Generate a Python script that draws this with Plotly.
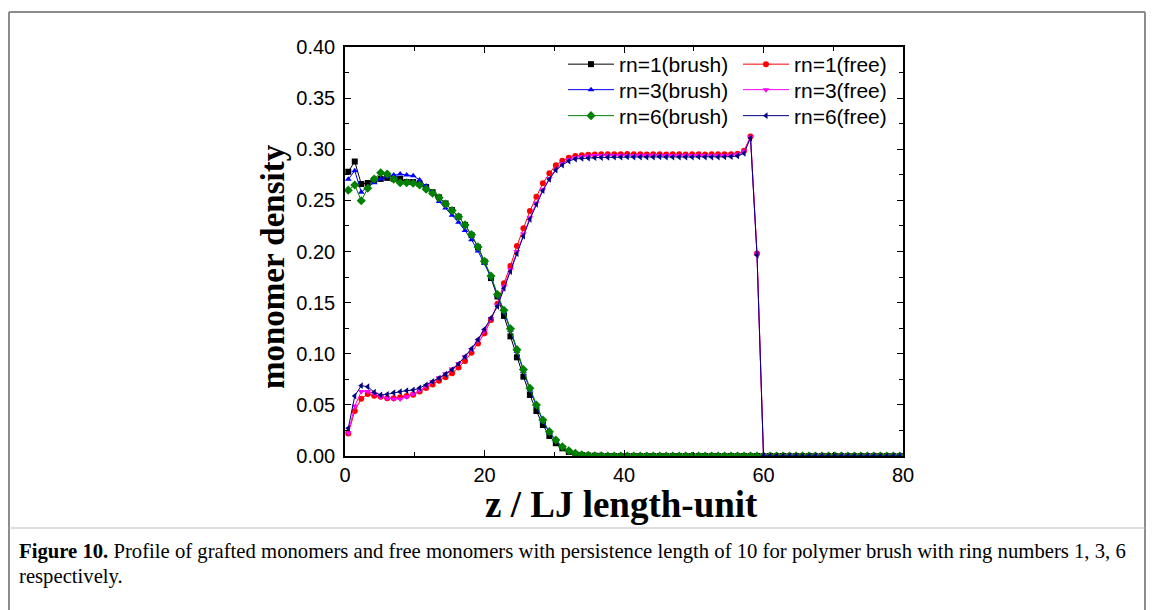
import plotly.graph_objects as go

# z positions of the density bins (LJ units)
z = [0.47, 1.40, 2.33, 3.26, 4.19, 5.12, 6.05, 6.98, 7.91, 8.84,
     9.77, 10.70, 11.63, 12.56, 13.49, 14.42, 15.35, 16.28, 17.21, 18.14,
     19.07, 20.00, 20.93, 21.86, 22.79, 23.72, 24.65, 25.58, 26.51, 27.44,
     28.37, 29.30, 30.23, 31.16, 32.09, 33.02, 33.95, 34.88, 35.81, 36.74,
     37.67, 38.60, 39.53, 40.47, 41.40, 42.33, 43.26, 44.19, 45.12, 46.05,
     46.98, 47.91, 48.84, 49.77, 50.70, 51.63, 52.56, 53.49, 54.42, 55.35,
     56.28, 57.21, 58.14, 59.07, 60.00, 60.93, 61.86, 62.79, 63.72, 64.65,
     65.58, 66.51, 67.44, 68.37, 69.30, 70.23, 71.16, 72.09, 73.02, 73.95,
     74.88, 75.81, 76.74, 77.67, 78.60, 79.53]

rn1_brush = [0.278, 0.288, 0.266, 0.267, 0.270, 0.271, 0.272, 0.271, 0.271, 0.268,
             0.268, 0.266, 0.263, 0.258, 0.253, 0.247, 0.2405, 0.234, 0.226, 0.216,
             0.204, 0.190, 0.174, 0.156, 0.137, 0.117, 0.0965, 0.0776, 0.0597, 0.044,
             0.0303, 0.0196, 0.0125, 0.0075, 0.004, 0.002, 0.001, 0.0005, 0.0003, 0.0002,
             0, 0, 0, 0, 0, 0, 0, 0, 0, 0,
             0, 0, 0, 0, 0, 0, 0, 0, 0, 0,
             0, 0, 0, 0, 0, 0, 0, 0, 0, 0,
             0, 0, 0, 0, 0, 0, 0, 0, 0, 0,
             0, 0, 0, 0, 0, 0]

rn3_brush = [0.2706, 0.279, 0.258, 0.2634, 0.2673, 0.2709, 0.2732, 0.2748, 0.2758, 0.2748,
             0.2741, 0.2700, 0.2640, 0.2575, 0.2490, 0.2425, 0.2355, 0.2285, 0.2205, 0.2115,
             0.2005, 0.1885, 0.1750, 0.1570, 0.1410, 0.1230, 0.1025, 0.0830, 0.0645, 0.0485,
             0.0340, 0.0228, 0.0148, 0.0088, 0.0050, 0.0025, 0.0012, 0.0006, 0.0003, 0.0002,
             0, 0, 0, 0, 0, 0, 0, 0, 0, 0,
             0, 0, 0, 0, 0, 0, 0, 0, 0, 0,
             0, 0, 0, 0, 0, 0, 0, 0, 0, 0,
             0, 0, 0, 0, 0, 0, 0, 0, 0, 0,
             0, 0, 0, 0, 0, 0]

rn6_brush = [0.260, 0.265, 0.2497, 0.2618, 0.2709, 0.277, 0.2758, 0.2706, 0.2673, 0.2673,
             0.2667, 0.2650, 0.2610, 0.2570, 0.2525, 0.2465, 0.2400, 0.2340, 0.2260, 0.2165,
             0.2045, 0.1905, 0.1760, 0.1580, 0.1425, 0.1245, 0.1040, 0.0845, 0.0662, 0.0499,
             0.0352, 0.0238, 0.0156, 0.0091, 0.0052, 0.0026, 0.0012, 0.0006, 0.0003, 0.0002,
             0, 0, 0, 0, 0, 0, 0, 0, 0, 0,
             0, 0, 0, 0, 0, 0, 0, 0, 0, 0,
             0, 0, 0, 0, 0, 0, 0, 0, 0, 0,
             0, 0, 0, 0, 0, 0, 0, 0, 0, 0,
             0, 0, 0, 0, 0, 0]

rn1_free = [0.022, 0.044, 0.056, 0.0606, 0.059, 0.058, 0.0565, 0.0565, 0.0575, 0.0587,
            0.0600, 0.0630, 0.0665, 0.0700, 0.0735, 0.0770, 0.0810, 0.0865, 0.0930, 0.1010,
            0.1100, 0.1200, 0.1330, 0.1490, 0.1690, 0.1858, 0.2055, 0.2227, 0.2396, 0.2536,
            0.2667, 0.2765, 0.2843, 0.2888, 0.2918, 0.2935, 0.2942, 0.2946, 0.2948, 0.2950,
            0.2950, 0.2952, 0.2951, 0.2953, 0.2950, 0.2952, 0.2948, 0.2951, 0.2950, 0.2949,
            0.2951, 0.2950, 0.2949, 0.2952, 0.2950, 0.2948, 0.2951, 0.2950, 0.2952, 0.2950,
            0.2955, 0.2985, 0.3125, 0.1980, 0, 0, 0, 0, 0, 0,
            0, 0, 0, 0, 0, 0, 0, 0, 0, 0,
            0, 0, 0, 0, 0, 0]

rn3_free = [0.0225, 0.0489, 0.0630, 0.0630, 0.0610, 0.0580, 0.0564, 0.0557, 0.0557, 0.0580,
            0.0606, 0.0640, 0.0685, 0.0725, 0.0765, 0.0805, 0.0850, 0.0905, 0.0970, 0.1040,
            0.1130, 0.1225, 0.1345, 0.1475, 0.1655, 0.1825, 0.2000, 0.2170, 0.2330, 0.2475,
            0.2605, 0.2715, 0.2805, 0.2860, 0.2900, 0.2920, 0.2930, 0.2935, 0.2938, 0.2940,
            0.2941, 0.2940, 0.2942, 0.2940, 0.2939, 0.2941, 0.2940, 0.2942, 0.2940, 0.2941,
            0.2939, 0.2940, 0.2941, 0.2940, 0.2942, 0.2940, 0.2939, 0.2941, 0.2940, 0.2942,
            0.2950, 0.2980, 0.3120, 0.1975, 0, 0, 0, 0, 0, 0,
            0, 0, 0, 0, 0, 0, 0, 0, 0, 0,
            0, 0, 0, 0, 0, 0]

rn6_free = [0.0271, 0.0587, 0.0688, 0.0678, 0.0623, 0.0597, 0.0603, 0.0619, 0.0629, 0.0639,
            0.0645, 0.0665, 0.0695, 0.0728, 0.0762, 0.0800, 0.0845, 0.0900, 0.0970, 0.1050,
            0.1140, 0.1240, 0.1350, 0.1465, 0.1640, 0.1805, 0.1980, 0.2150, 0.2315, 0.2461,
            0.2595, 0.2706, 0.2797, 0.2846, 0.2885, 0.2905, 0.2911, 0.2915, 0.2918, 0.2920,
            0.2922, 0.2925, 0.2923, 0.2926, 0.2924, 0.2925, 0.2923, 0.2925, 0.2926, 0.2924,
            0.2925, 0.2923, 0.2925, 0.2924, 0.2926, 0.2925, 0.2923, 0.2925, 0.2926, 0.2928,
            0.2935, 0.2960, 0.3110, 0.1965, 0, 0, 0, 0, 0, 0,
            0, 0, 0, 0, 0, 0, 0, 0, 0, 0,
            0, 0, 0, 0, 0, 0]

series_names = ["rn=1(brush)", "rn=1(free)", "rn=3(brush)", "rn=3(free)", "rn=6(brush)", "rn=6(free)"]
series_values = [rn1_brush, rn1_free, rn3_brush, rn3_free, rn6_brush, rn6_free]
colors = ["#000000", "#FF0000", "#0000FF", "#FF00FF", "#008000", "#000080"]
symbols = ["square", "circle", "triangle-up", "triangle-down", "diamond", "triangle-left"]
sizes = [6, 6, 6, 6, 7, 6]

x_title = "z / LJ length-unit"
y_title = "monomer density"
caption_1 = "<b>Figure 10.</b> Profile of grafted monomers and free monomers with persistence length of 10 for polymer brush with ring numbers 1, 3, 6"
caption_2 = "respectively."

# plot area geometry (pixels)
W, H = 1153, 610
L, R, T, B = 345, 903, 47, 456
pw, ph = R - L, B - T


def px(xp):
    return (xp - L) / pw


def py(yp):
    return (B - yp) / ph


fig = go.Figure()
legend_ids = ["legend", "legend2", "legend3", "legend4", "legend5", "legend6"]
for k, (name, vals) in enumerate(zip(series_names, series_values)):
    fig.add_trace(go.Scatter(
        x=z, y=vals, name=name, mode="lines+markers",
        line=dict(color=colors[k], width=1),
        marker=dict(symbol=symbols[k], size=sizes[k], color=colors[k]),
        legend=legend_ids[k],
    ))

# legend placement: two columns, three rows
col_x = [px(563), px(738)]
row_y = [py(64.5), py(90), py(116)]
leg_layout = {}
for k, lid in enumerate(legend_ids):
    leg_layout[lid] = dict(
        x=col_x[k % 2], y=row_y[k // 2], xanchor="left", yanchor="middle",
        bgcolor="rgba(0,0,0,0)", borderwidth=0, itemwidth=46,
        font=dict(family="Liberation Sans, Arial", size=21, color="black"),
    )

axis_common = dict(
    showline=True, linecolor="black", linewidth=1.5, mirror="allticks",
    ticks="inside", ticklen=6, tickwidth=1.2, tickcolor="black",
    showgrid=False, zeroline=False,
    tickfont=dict(family="Liberation Sans, Arial", size=20, color="black"),
)

fig.update_layout(
    width=W, height=H,
    margin=dict(l=L, r=W - R, t=T, b=H - B),
    paper_bgcolor="white", plot_bgcolor="white",
    showlegend=True,
    xaxis=dict(range=[0, 80], dtick=20, tick0=0,
               minor=dict(ticks="inside", dtick=10, ticklen=4, tickwidth=1.2, tickcolor="black"),
               ticklabelstandoff=0, **axis_common),
    yaxis=dict(range=[0, 0.40], dtick=0.05, tick0=0, tickformat=".2f",
               minor=dict(ticks="inside", dtick=0.025, ticklen=4, tickwidth=1.2, tickcolor="black"),
               ticklabelstandoff=4, **axis_common),
    **leg_layout,
)

fig.add_annotation(text=y_title, x=px(273), y=py(267), xref="paper", yref="paper",
                   textangle=-90, showarrow=False,
                   font=dict(family="Liberation Serif, Times New Roman", size=33, color="black", weight="bold"),
                   xanchor="center", yanchor="middle")
fig.add_annotation(text=x_title, x=px(621), y=py(504), xref="paper", yref="paper",
                   showarrow=False,
                   font=dict(family="Liberation Serif, Times New Roman", size=37, color="black", weight="bold"),
                   xanchor="center", yanchor="middle")

cap_font = dict(family="Liberation Serif, Times New Roman", size=20.7, color="black")
fig.add_annotation(text=caption_1, x=px(17), y=py(551), xref="paper", yref="paper",
                   showarrow=False, font=cap_font, xanchor="left", yanchor="middle")
fig.add_annotation(text=caption_2, x=px(17), y=py(576), xref="paper", yref="paper",
                   showarrow=False, font=cap_font, xanchor="left", yanchor="middle")

# page frame and separator
frame = dict(color="#8c8c8c", width=2)
fig.add_shape(type="line", xref="paper", yref="paper", x0=px(9), x1=px(9), y0=py(12), y1=py(640), line=frame)
fig.add_shape(type="line", xref="paper", yref="paper", x0=px(1145), x1=px(1145), y0=py(12), y1=py(640), line=frame)
fig.add_shape(type="line", xref="paper", yref="paper", x0=px(9), x1=px(1145), y0=py(12), y1=py(12), line=frame)
fig.add_shape(type="line", xref="paper", yref="paper", x0=px(9), x1=px(1145), y0=py(528), y1=py(528),
              line=dict(color="#bdbdbd", width=1))

fig.write_html("out.html")
